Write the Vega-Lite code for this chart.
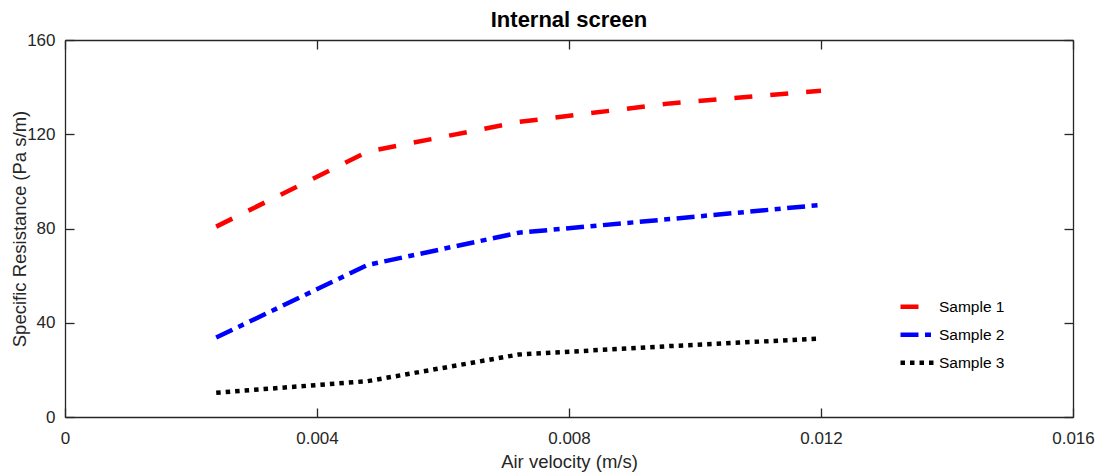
{
  "$schema": "https://vega.github.io/schema/vega-lite/v6.json",
  "width": 1008,
  "height": 377,
  "autosize": "none",
  "padding": {"left": 65, "top": 40, "right": 25, "bottom": 58},
  "background": "white",
  "title": {"text": "Internal screen", "fontSize": 22, "fontWeight": "bold", "color": "#000000", "anchor": "middle", "offset": -1},
  "data": {"values": [
    {"v": 0.0024, "r": 80.8, "s": "Sample 1"},
    {"v": 0.0048, "r": 112.6, "s": "Sample 1"},
    {"v": 0.0072, "r": 125.2, "s": "Sample 1"},
    {"v": 0.0096, "r": 133.1, "s": "Sample 1"},
    {"v": 0.012, "r": 138.5, "s": "Sample 1"},
    {"v": 0.0024, "r": 33.7, "s": "Sample 2"},
    {"v": 0.0048, "r": 64.5, "s": "Sample 2"},
    {"v": 0.0072, "r": 78.2, "s": "Sample 2"},
    {"v": 0.0096, "r": 84.0, "s": "Sample 2"},
    {"v": 0.012, "r": 90.0, "s": "Sample 2"},
    {"v": 0.0024, "r": 10.3, "s": "Sample 3"},
    {"v": 0.0048, "r": 15.2, "s": "Sample 3"},
    {"v": 0.0072, "r": 26.5, "s": "Sample 3"},
    {"v": 0.0096, "r": 30.1, "s": "Sample 3"},
    {"v": 0.012, "r": 33.3, "s": "Sample 3"}
  ]},
  "layer": [
    {
      "mark": {"type": "line", "strokeWidth": 4.5, "strokeCap": "butt"},
      "encoding": {
        "x": {"field": "v", "type": "quantitative", "scale": {"domain": [0, 0.016], "nice": false, "zero": false},
              "axis": {"orient": "bottom", "values": [0, 0.004, 0.008, 0.012, 0.016], "format": ".3~f", "title": "Air velocity (m/s)", "labelPadding": 22, "titlePadding": 6}},
        "y": {"field": "r", "type": "quantitative", "scale": {"domain": [0, 160], "nice": false},
              "axis": {"orient": "left", "values": [0, 40, 80, 120, 160], "title": "Specific Resistance (Pa s/m)", "labelPadding": 19, "titlePadding": -3}},
        "color": {"field": "s", "type": "nominal", "scale": {"domain": ["Sample 1", "Sample 2", "Sample 3"], "range": ["#ff0000", "#0000ff", "#000000"]}, "legend": {"title": null}},
        "strokeDash": {"field": "s", "type": "nominal", "scale": {"domain": ["Sample 1", "Sample 2", "Sample 3"], "range": [[18, 18], [18, 6.5, 6, 6.5], [4.5, 5]]}, "legend": {"title": null}}
      }
    },
    {
      "mark": {"type": "point", "opacity": 0},
      "encoding": {
        "x": {"field": "v", "type": "quantitative", "axis": {"orient": "top", "values": [0, 0.004, 0.008, 0.012, 0.016], "labels": false, "title": null}},
        "y": {"field": "r", "type": "quantitative", "axis": {"orient": "right", "values": [0, 40, 80, 120, 160], "labels": false, "title": null}}
      }
    }
  ],
  "resolve": {"axis": {"x": "independent", "y": "independent"}},
  "config": {
    "font": "Liberation Sans",
    "view": {"stroke": null},
    "axis": {
      "grid": false,
      "domainColor": "#262626",
      "domainWidth": 1.3,
      "tickColor": "#262626",
      "tickWidth": 1.3,
      "tickSize": -9,
      "labelFontSize": 17,
      "labelColor": "#262626",
      "labelFont": "Liberation Sans",
      "titleFont": "Liberation Sans",
      "titleFontSize": 18.5,
      "titleFontWeight": "normal",
      "titleColor": "#262626",
      "labelFlush": false,
      "labelOverlap": false
    },
    "legend": {
      "orient": "none",
      "legendX": 833,
      "legendY": 253,
      "padding": 0,
      "symbolType": "stroke",
      "symbolSize": 1089,
      "symbolStrokeWidth": 4.5,
      "labelFontSize": 15.5,
      "labelFont": "Liberation Sans",
      "labelColor": "#000000",
      "labelOffset": 3,
      "clipHeight": 27.5,
      "rowPadding": 0
    }
  }
}
